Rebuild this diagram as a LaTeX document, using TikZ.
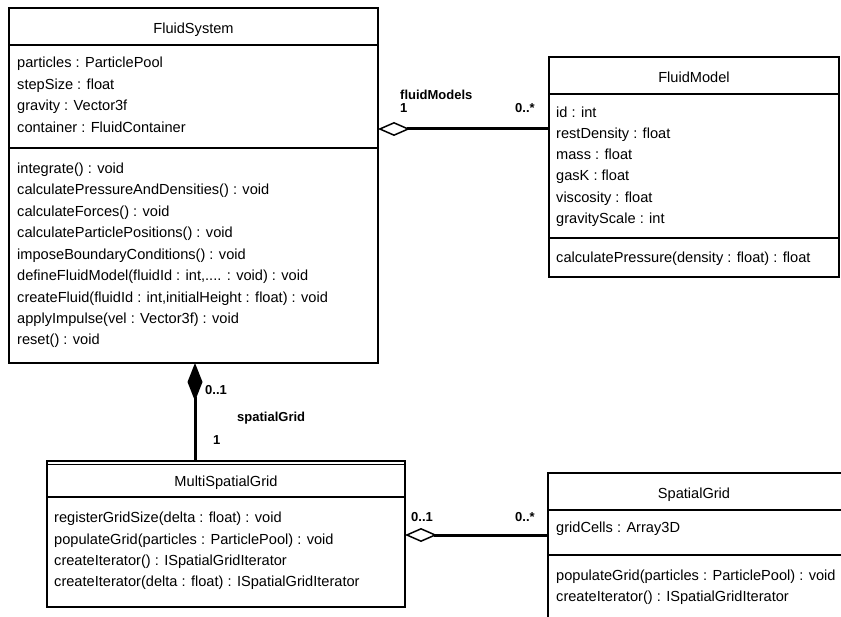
\documentclass[tikz,border=0pt]{standalone}
\usepackage{fontspec}
\setmainfont{Liberation Sans}
\usetikzlibrary{arrows.meta,calc}
\begin{document}
\begin{tikzpicture}[x=1pt,y=-1pt,
  cls/.style={draw, line width=2pt, anchor=north west, inner sep=0pt, outer sep=0pt},
  sep/.style={line width=2pt},
  txt/.style={anchor=west, inner sep=0pt, yshift=-1.5pt, text height=10.5pt, text depth=3pt, font=\fontsize{14.6}{17}\selectfont},
  ttl/.style={inner sep=0pt, yshift=-1.5pt, text height=10.5pt, text depth=3pt, font=\fontsize{14.6}{17}\selectfont},
  lbl/.style={inner sep=0pt, anchor=west, yshift=-1.5pt, text height=9.5pt, text depth=2.5pt, font=\fontsize{13}{15}\selectfont\bfseries},
  conn/.style={line width=3pt},
  agg/.style={conn, {Diamond[open,length=32pt,width=14pt,line width=1.5pt]}-},
  comp/.style={conn, {Diamond[length=38pt,width=15pt]}-}]
\useasboundingbox (0,0) rectangle (841,617);
\clip (0,0) rectangle (841,617);

% FluidSystem
\node[cls, minimum width=369pt, minimum height=355pt] (fs) at (9,8) {};
\node[ttl] (fst) at (193.5,28) {FluidSystem};
\draw[sep] (fs.west |- 0,45) -- (fs.east |- 0,45);
\draw[sep] (fs.west |- 0,148) -- (fs.east |- 0,148);
\node[txt] (fsa1) at (17,62) {particles : ParticlePool};
\node[txt] (fsa2) at (17,84) {stepSize : float};
\node[txt] (fsa3) at (17,105) {gravity : Vector3f};
\node[txt] (fsa4) at (17,127) {container : FluidContainer};
\node[txt] (fsm1) at (17,168) {integrate() : void};
\node[txt] (fsm2) at (17,189) {calculatePressureAndDensities() : void};
\node[txt] (fsm3) at (17,211) {calculateForces() : void};
\node[txt] (fsm4) at (17,232) {calculateParticlePositions() : void};
\node[txt] (fsm5) at (17,254) {imposeBoundaryConditions() : void};
\node[txt] (fsm6) at (17,275) {defineFluidModel(fluidId : int,.... : void) : void};
\node[txt] (fsm7) at (17,297) {createFluid(fluidId : int,initialHeight : float) : void};
\node[txt] (fsm8) at (17,318) {applyImpulse(vel : Vector3f) : void};
\node[txt] (fsm9) at (17,339) {reset() : void};

% FluidModel
\node[cls, minimum width=290pt, minimum height=220pt] (fm) at (549,57) {};
\node[ttl] (fmt) at (694,77) {FluidModel};
\draw[sep] (fm.west |- 0,94) -- (fm.east |- 0,94);
\draw[sep] (fm.west |- 0,238) -- (fm.east |- 0,238);
\node[txt] (fma1) at (556,112) {id : int};
\node[txt] (fma2) at (556,133) {restDensity : float};
\node[txt] (fma3) at (556,154) {mass : float};
\node[txt] (fma4) at (556,175) {gasK : float};
\node[txt] (fma5) at (556,197) {viscosity : float};
\node[txt] (fma6) at (556,218) {gravityScale : int};
\node[txt] (fmm1) at (556,257) {calculatePressure(density : float) : float};

% MultiSpatialGrid
\node[cls, minimum width=358pt, minimum height=146pt] (msg) at (47,461) {};
\draw[line width=1pt] (msg.west |- 0,464.5) -- (msg.east |- 0,464.5);
\node[ttl] (msgt) at (226,481) {MultiSpatialGrid};
\draw[sep] (msg.west |- 0,497) -- (msg.east |- 0,497);
\node[txt] (msgm1) at (54,517) {registerGridSize(delta : float) : void};
\node[txt] (msgm2) at (54,539) {populateGrid(particles : ParticlePool) : void};
\node[txt] (msgm3) at (54,560) {createIterator() : ISpatialGridIterator};
\node[txt] (msgm4) at (54,581) {createIterator(delta : float) : ISpatialGridIterator};

% SpatialGrid
\node[cls, minimum width=295pt, minimum height=160pt] (sg) at (548,473) {};
\node[ttl] (sgt) at (694,493) {SpatialGrid};
\draw[sep] (sg.west |- 0,510) -- (sg.east |- 0,510);
\draw[sep] (sg.west |- 0,555) -- (sg.east |- 0,555);
\node[txt] (sga1) at (556,527) {gridCells : Array3D};
\node[txt] (sgm1) at (556,575) {populateGrid(particles : ParticlePool) : void};
\node[txt] (sgm2) at (556,596) {createIterator() : ISpatialGridIterator};

% connectors
\draw[agg] (fs.east |- 0,129) -- (fm.west |- 0,129);
\node[lbl] (l1) at (400,95) {fluidModels};
\node[lbl] (l2) at (400,108) {1};
\node[lbl] (l3) at (515,108) {0..*};

\draw[comp] (fs.south -| 195,0) -- (msg.north -| 195,0);
\node[lbl] (l4) at (205,390) {0..1};
\node[lbl] (l5) at (237,417) {spatialGrid};
\node[lbl] (l6) at (213,440) {1};

\draw[agg] (msg.east |- 0,535) -- (sg.west |- 0,535);
\node[lbl] (l7) at (411,516) {0..1};
\node[lbl] (l8) at (515,516) {0..*};
\end{tikzpicture}
\end{document}
